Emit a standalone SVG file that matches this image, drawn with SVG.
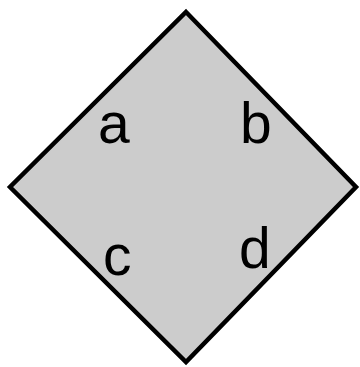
<svg xmlns="http://www.w3.org/2000/svg" width="360" height="367" viewBox="0 0 360 367">
<style>
.lbl{font-family:"Liberation Sans",Arial,sans-serif;font-size:57px;fill:#000}
</style>
<rect width="360" height="367" fill="#fff"/>
<g id="diamond">
<polygon points="186,12 356,187 186,362 10,187" fill="#cccccc" stroke="#000" stroke-width="4.5"/>
</g>
<g id="connectors"></g>
<g id="label-a"><text class="lbl" x="98" y="143">a</text></g>
<g id="label-b"><text class="lbl" x="240" y="143">b</text></g>
<g id="label-c"><text class="lbl" x="103" y="275">c</text></g>
<g id="label-d"><text class="lbl" x="239" y="268">d</text></g>
</svg>
